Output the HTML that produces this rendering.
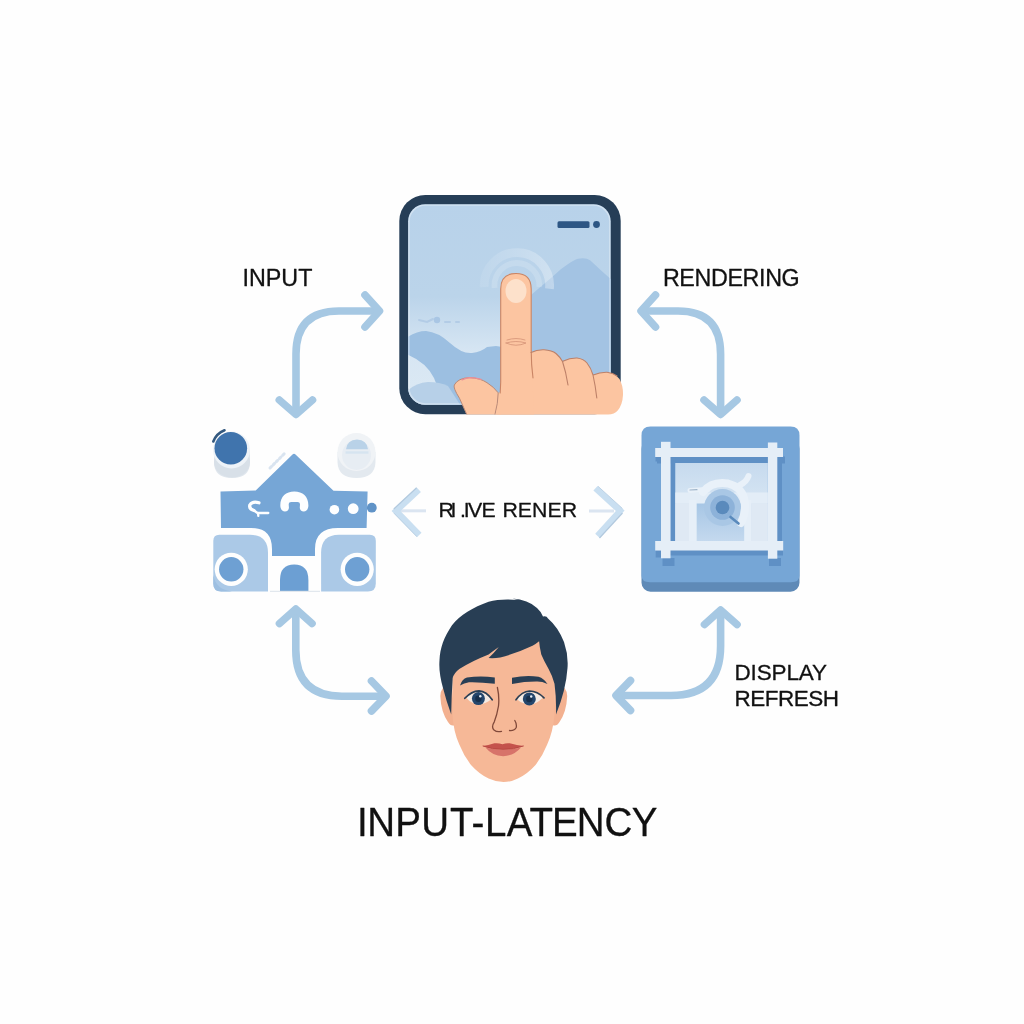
<!DOCTYPE html>
<html>
<head>
<meta charset="utf-8">
<title>Input-Latency</title>
<style>
html,body{margin:0;padding:0;background:#fefefe;}
body{width:1024px;height:1024px;overflow:hidden;position:relative;font-family:"Liberation Sans",sans-serif;}
svg{position:absolute;left:0;top:0;display:block;}
text{font-family:"Liberation Sans",sans-serif;fill:#111;}
</style>
</head>
<body>
<svg width="1024" height="1024" viewBox="0 0 1024 1024">
<defs>
  <linearGradient id="scr" x1="0" y1="0" x2="0" y2="1">
    <stop offset="0" stop-color="#b8d2ea"/>
    <stop offset="0.46" stop-color="#bbd4ea"/>
    <stop offset="0.74" stop-color="#d7e6f3"/>
    <stop offset="1" stop-color="#dce9f4"/>
  </linearGradient>
  <linearGradient id="ripg" gradientUnits="userSpaceOnUse" x1="480" y1="0" x2="554" y2="0">
    <stop offset="0" stop-color="#fff" stop-opacity="0.08"/>
    <stop offset="0.5" stop-color="#fff" stop-opacity="0.18"/>
    <stop offset="1" stop-color="#fff" stop-opacity="0.32"/>
  </linearGradient>
  <clipPath id="scrclip"><rect x="408.100" y="204.200" width="202.600" height="200.500" rx="17" ry="17"/></clipPath>
</defs>
<rect x="0" y="0" width="1024" height="1024" fill="#fefefe"/>


<!-- TABLET -->
<g id="tablet">
  <rect x="399.300" y="195" width="221.400" height="219.200" rx="26" ry="26" fill="#263e57"/>
  <rect x="408.100" y="204.200" width="202.600" height="200.500" rx="17" ry="17" fill="url(#scr)"/>
  <g clip-path="url(#scrclip)">
    <!-- right mountain -->
    <path d="M510 420 L510 313 L531 295 L553 276.300 L560.800 269.200 L567.800 264.300 Q574 260 578 258.800 Q582.700 257.700 587 258.700 Q590.500 260 593.600 263.500 L601.400 270.800 L612 280 L612 420 Z" fill="#a3c3e3"/>
    <!-- left hill -->
    <path d="M406 338 Q416 331 426 331 Q438 332 450 343 Q462 354 472 353 Q481 352 487 347 L496 346 L520 350 L520 420 L445 420 Q440 392 434 378 Q426 362 406 354 Z" fill="#9cbfe1"/>
    <!-- lower cloud -->
    <path d="M406 392 Q415 383 428 382 Q440 382 448 386 L470 420 L406 420 Z" fill="#b7d0e8"/>
    <!-- tiny bird marks -->
    <circle cx="437" cy="320" r="3.2" fill="#a9c6e4"/>
    <path d="M419 320 L427 322 L433 319 M445 322 L450 322 M456 322 L459 322" stroke="#b3cce6" stroke-width="2" fill="none" stroke-linecap="round"/>
    <!-- ripples -->
    <path d="M484.240 287 A32.700 32.700 0 1 1 549.420 288.800" fill="none" stroke="url(#ripg)" stroke-width="8.800"/>
    <path d="M494.650 288 A22.400 22.400 0 1 1 539.240 287" fill="none" stroke="#ffffff" stroke-opacity="0.160" stroke-width="5.800"/>
    <rect x="408.900" y="205" width="201" height="199" rx="16.500" ry="16.500" fill="none" stroke="#ffffff" stroke-opacity="0.35" stroke-width="1.600"/>
    <!-- status bar -->
    <rect x="557.5" y="221.3" width="32" height="6.6" rx="1.5" fill="#2d5684"/>
    <circle cx="596.5" cy="224.5" r="3.4" fill="#2d5684"/>
  </g>
</g>

<!-- HAND -->
<g id="hand" stroke-linejoin="round" stroke-linecap="round">
  <!-- palm / knuckles -->
  <path d="M531 352.500 Q537 349.500 544 349.800 Q552 350.300 556 353.500 Q560 357 562.500 361.500 Q570 357.800 577 358 Q583.500 358.800 587 363 Q591 368 593 375 Q600 372 607 372.200 Q615 373 619.500 379 Q623.300 386 623 395 Q622.500 405 617.500 410.800 Q614.500 414.500 608 414.500 L499 414.500 L501 380 Z" fill="#fcc5a1"/>
  <!-- thumb -->
  <path d="M466.600 414.500 L459.500 398.300 Q453 388 454.300 385 Q458 378 469.700 377.600 Q480 378 487 382.700 Q494 387 498.200 392.800 L501 392 L501 414.500 Z" fill="#fcc5a1"/>
  <path d="M466.600 414 L459.500 398.300 Q453 388 454.300 385 Q458 378 469.700 377.600 Q480 378 487 382.700 Q494 387 498.200 392.800 Q498 403 495.100 414" fill="none" stroke="#b98a78" stroke-width="1"/>
  <path d="M462 379.800 Q466 377.800 469.700 377.600 Q476 377.700 481 379.300" fill="none" stroke="#ec8f98" stroke-width="1.400" stroke-linecap="round"/>
  <!-- index finger -->
  <path d="M495.500 414.500 Q500 402 500.700 382 L500.700 289 Q500.700 273.500 516 273.500 Q531.200 273.500 531.200 289 L531.200 352 L534 414.500 Z" fill="#fcc5a1"/>
  <path d="M500.200 393 L500.700 382 L500.700 289 Q500.700 273.500 516 273.500 Q531.200 273.500 531.200 289 L531.200 350 Q531.200 365 533 378" fill="none" stroke="#c98565" stroke-width="1.1"/>
  <!-- knuckle outlines -->
  <path d="M531 352.500 Q537 349.500 544 349.800 Q552 350.300 556 353.500 Q560 357 562.500 361.500 Q566 372 568 385 M562.800 361.300 Q570 357.800 577 358 Q583.500 358.800 587 363 Q591 368 593 375 Q595.500 386 596.800 398 M593.200 375 Q600 372 607 372.200 Q613 372.800 617 376" fill="none" stroke="#bd8068" stroke-width="1.100"/>
  <!-- nail -->
  <ellipse cx="516" cy="291" rx="10.5" ry="12" fill="#fde1cb"/>
  <!-- finger crease -->
  <path d="M507 340 Q516 337 525 340 M506 343 Q516 340 526 343 Q516 347.500 506 343" fill="none" stroke="#d8977a" stroke-width="0.9"/>
</g>


<!-- LEFT ICON -->
<g id="lefticon">
  <!-- top-left knob -->
  <path d="M214 450 L214 462 Q214 478 232 478 Q250 478 250 462 L250 450 Z" fill="#dfe6ed"/>
  <ellipse cx="232" cy="462" rx="18" ry="15.5" fill="#d8e0e8"/>
  <ellipse cx="231.500" cy="450" rx="18.500" ry="18.500" fill="#eef3f8"/>
  <path d="M213.300 441.500 Q216.500 433.500 224.500 430.300" fill="none" stroke="#34597f" stroke-width="2.600" stroke-linecap="round"/>
  <circle cx="230.800" cy="448.300" r="16.300" fill="#4074ad"/>
  <!-- top-right knob -->
  <path d="M337.500 452 L337.500 462 Q338 478 356.500 478 Q375 478 375.500 462 L375.500 452 Z" fill="#e3e9ef"/>
  <ellipse cx="356.500" cy="452" rx="19" ry="19" fill="#f0f3f6"/>
  <ellipse cx="356.500" cy="455" rx="14.500" ry="15" fill="#e7edf3"/>
  <path d="M346 449.300 Q347 440 357 439.500 Q367 440 368 449.300 Z" fill="#b9d2e8"/>
  <path d="M345.500 452.500 H368.500" stroke="#d6e4f0" stroke-width="2.400"/>
  <!-- main body -->
  <path d="M220.500 491.500 L255.700 490.500 L292.500 454.500 Q294 453 295.500 454.500 L333.500 490.800 L367.600 491.600 L366.600 528 L338 528 Q315 528 315 549 L315 556 L272 556 L272 549 Q272 528 251 528 L221 528 Z" fill="#76a6d6"/>
  <!-- roof hint -->
  <path d="M270 468 L285 453" stroke="#d9e4f0" stroke-width="3" stroke-linecap="round" stroke-dasharray="2 2.500"/>
  <!-- white area under body -->
  <rect x="268" y="556" width="54" height="36" fill="#fefefe"/>
  <!-- bottom blocks -->
  <path d="M219.300 534.800 H250 Q268 534.800 268 553 V591.400 H221.300 Q213.300 591.400 213.300 583.400 V540.800 Q213.300 534.800 219.300 534.800 Z" fill="#abc9e7" stroke="#fefefe" stroke-width="6" paint-order="stroke"/>
  <path d="M369.800 534.800 H339 Q321.100 534.800 321.100 553 V591.400 H367.800 Q375.800 591.400 375.800 583.400 V540.800 Q375.800 534.800 369.800 534.800 Z" fill="#abc9e7" stroke="#fefefe" stroke-width="6" paint-order="stroke"/>
  <!-- subtle bottom shade on blocks -->
  <path d="M213.300 575 Q216 590 232 591.400 H221.300 Q213.300 591.400 213.300 583.400 Z" fill="#9dbfe1"/>
  <circle cx="231.250" cy="569.300" r="16.600" fill="#fefefe"/>
  <circle cx="231.250" cy="569.300" r="12.200" fill="#6ea0d3"/>
  <circle cx="357.200" cy="569.300" r="16.600" fill="#fefefe"/>
  <circle cx="357.200" cy="569.300" r="12.200" fill="#6ea0d3"/>
  <!-- door -->
  <path d="M280 591 V580 Q280 564.500 294.200 564.500 Q308.400 564.500 308.400 580 V591 Z" fill="#6c9fd3"/>
  <path d="M270 591.300 H320" stroke="#dbe3ea" stroke-width="1"/>
  <!-- center arch -->
  <path d="M280.300 505.500 C280.300 496.500 286 491.600 294.300 491.600 C302.700 491.600 308.400 496.500 308.400 505.500 C308.400 509 306.500 511.400 303.800 511.400 C301 511.400 299.500 509.500 299.800 507 L300 504.500 C300 502.800 299 502 297.500 502 L291.200 502 C289.700 502 288.700 502.800 288.700 504.500 L288.900 507 C289.200 509.500 287.700 511.400 284.900 511.400 C282.200 511.400 280.300 509 280.300 505.500 Z" fill="#fdfeff"/>
  <!-- squiggle -->
  <path d="M259 502.800 Q252.500 500.800 249.800 505 Q248.800 509 254 510.500" fill="none" stroke="#fdfeff" stroke-width="3.200" stroke-linecap="round"/>
  <path d="M254 510.500 L257.500 513 H268.300 M258 513 L258.300 515.800" fill="none" stroke="#fdfeff" stroke-width="2.300" stroke-linecap="round" stroke-linejoin="round"/>
  <!-- dots -->
  <circle cx="334.400" cy="509.700" r="4.800" fill="#fdfeff"/>
  <circle cx="353.200" cy="508.700" r="5.400" fill="#fdfeff"/>
  <circle cx="371.800" cy="507.700" r="4.900" fill="#6093c7"/>
</g>


<!-- RIGHT ICON -->
<g id="righticon">
  <defs>
    <linearGradient id="pic" x1="0" y1="0" x2="0" y2="1">
      <stop offset="0" stop-color="#c6daee"/>
      <stop offset="0.4" stop-color="#d3e3f2"/>
      <stop offset="1" stop-color="#dbe8f4"/>
    </linearGradient>
    <linearGradient id="picmid" x1="0" y1="0" x2="0" y2="1">
      <stop offset="0" stop-color="#a6c6e5"/>
      <stop offset="1" stop-color="#c4d9ee"/>
    </linearGradient>
    <clipPath id="picclip"><rect x="675.300" y="463" width="92.500" height="78.500"/></clipPath>
  </defs>
  <rect x="641.500" y="440" width="158" height="151.700" rx="9" ry="9" fill="#5f8ab7"/>
  <path d="M650.500 426.400 H790.500 Q799.500 426.400 799.500 435.400 V575.500 Q799.500 582.300 791 582.300 H650 Q641.500 582.300 641.500 575.500 V435.400 Q641.500 426.400 650.500 426.400 Z" fill="#76a6d6"/>
  <!-- shadows -->
  <g fill="#5f90c5">
    <rect x="657" y="456.500" width="128" height="7"/>
    <rect x="670.500" y="456.500" width="5" height="85"/>
    <rect x="777" y="456.500" width="5" height="94"/>
    <rect x="670" y="550" width="113" height="5.500"/>
    <rect x="662.500" y="558" width="12" height="8"/>
    <rect x="769" y="558" width="12" height="8"/>
    <rect x="655.500" y="456.500" width="6" height="5"/>
    <rect x="655.700" y="550.500" width="5.500" height="7"/>
  </g>
  <!-- picture -->
  <rect x="675.300" y="463" width="92.500" height="78.500" fill="url(#pic)"/>
  <g clip-path="url(#picclip)">
    <rect x="696.500" y="503" width="48" height="38" fill="url(#picmid)"/>
    <rect x="675" y="492.500" width="93" height="11" fill="#e3edf7"/>
    <rect x="689" y="500" width="7.500" height="42" fill="#e6eff8"/>
    <rect x="744.300" y="500" width="7" height="42" fill="#e6eff8"/>
    <rect x="675" y="503.500" width="14" height="38" fill="#dfe9f4"/>
    <rect x="751.300" y="503.500" width="17" height="38" fill="#dfe9f4"/>
    <circle cx="722.500" cy="507.500" r="18.500" fill="#a9c7e5"/>
    <circle cx="722.500" cy="507.500" r="12.300" fill="#8db2d9"/>
    <circle cx="722.500" cy="507.500" r="6.800" fill="#5a8abc"/>
    <!-- white swoosh -->
    <path d="M703 492 Q712 481 728 483.500 Q741 487 744 498 Q747 511 741 523" fill="none" stroke="#e9f1f9" stroke-width="8" stroke-linecap="round"/>
    <path d="M690 490.500 L708 489.500" stroke="#e9f1f9" stroke-width="5" stroke-linecap="round"/>
    <path d="M740 485 Q746.500 482 748.500 476" fill="none" stroke="#e9f1f9" stroke-width="6" stroke-linecap="round"/>
    <path d="M730.500 517 L738.500 523.500" stroke="#5a8abc" stroke-width="2.600" stroke-linecap="round"/>
    <path d="M690 490 L697 489.700" stroke="#9fb4c9" stroke-width="1.200" stroke-linecap="round"/>
  </g>
  <!-- white frame -->
  <g fill="#e5eef7">
    <rect x="655.200" y="448" width="127.800" height="9"/>
    <rect x="655.200" y="541" width="128" height="9.500"/>
    <rect x="661" y="441.800" width="9.500" height="116.500"/>
    <rect x="767.900" y="442.500" width="9.400" height="116.200"/>
  </g>
</g>


<!-- FACE -->
<g id="face">
  <!-- ears -->
  <path d="M452 686 Q441 684 440.300 696 Q441 712 448 722 Q451 727 455 725 Z" fill="#f3b190"/>
  <path d="M555.500 686 Q566.500 684 567.200 696 Q566.500 712 559.500 722 Q556.500 727 552.500 725 Z" fill="#f3b190"/>
  <!-- face -->
  <path d="M452 640 L452.500 715 Q453.500 732 459.300 744.400 Q464 756 471 765 Q479 774 488.600 778.500 Q496 782 503.500 782 Q511 782 517.900 778.500 Q527.500 774 535.500 765 Q542.500 756 547.200 744.400 Q553 732 554.500 715 L556 640 Z" fill="#f6b897"/>
  <!-- hair -->
  <path d="M451.200 714.500 Q446 700 443 688 Q438.500 672 439.500 660.300 C440 648 444 637 452 625.200 C460 614.500 473 607.500 488.600 601.700 C497 599.300 508 599 518 600 Q515 599 512.500 598.500 Q528 599.500 537 608 Q541 611.500 543 616.500 Q546.500 615.500 548 618.500 Q558 627 564 642 Q568.500 655 567.500 668 Q566 690 556 714.500 Q556.500 698 554.500 683.700 Q552 675 548.600 669 Q544 661 541.300 654.500 Q539.500 647 539.100 641.300 Q536 644 532.500 645.700 Q516 653.500 500.300 657.400 Q494 658.500 488.600 658 Q494 653 498.800 647 Q493 651 488.600 654.500 Q472 661 459.300 669 Q454 673 452.700 678 Q451.500 695 451.200 714.500 Z" fill="#283e54"/>
  <!-- eyebrows -->
  <path d="M460 685.500 Q462 679 467 677.600 Q480 675.500 494.800 677.500 L494.800 683.800 Q480 682 469 682.300 Q464 683 460 685.500 Z" fill="#293f55"/>
  <path d="M512 677.800 Q526 675 538.500 676.800 Q544 678.500 547.500 684 Q542 681.500 537 681.600 Q525 681.500 512 684 Z" fill="#293f55"/>
  <!-- eyes -->
  <path d="M466.500 698 Q472 692 479 691.800 Q486 692.200 491 699.500 Q485.500 704 478.500 704.300 Q471.500 704 466.500 698 Z" fill="#f4ebe4"/>
  <path d="M517.300 699.500 Q522.500 692.200 529.500 692 Q537 692.200 542.500 698 Q536.500 704 529.500 704.500 Q522.500 704.200 517.300 699.500 Z" fill="#f4ebe4"/>
  <circle cx="478.400" cy="698.600" r="6.500" fill="#24466c"/>
  <circle cx="529.300" cy="698.900" r="6.500" fill="#24466c"/>
  <circle cx="478.400" cy="698.800" r="3.200" fill="#172f4b"/>
  <circle cx="529.300" cy="699" r="3.200" fill="#172f4b"/>
  <circle cx="480.300" cy="696.300" r="1.200" fill="#e8eef5"/>
  <circle cx="531.200" cy="696.500" r="1.200" fill="#e8eef5"/>
  <path d="M464.800 698.300 Q471.500 691 479 690.800 Q486.500 691.200 492.200 699.800" fill="none" stroke="#293f55" stroke-width="1.700" stroke-linecap="round"/>
  <path d="M516 699.800 Q522 691.300 529.500 691 Q537.500 691.200 544 697.800" fill="none" stroke="#293f55" stroke-width="1.700" stroke-linecap="round"/>
  <!-- nose -->
  <path d="M497.400 687.500 Q499.500 697 498.500 706 Q497 715 494.300 721.800 Q491 727 494 730 Q497 732.500 501.500 731.300 M509.500 730.500 Q514.500 731 516.200 727.500 Q517 724 514.800 720.500" fill="none" stroke="#80493a" stroke-width="1.300" stroke-linecap="round"/>
  <!-- mouth -->
  <path d="M482.700 745.900 Q488 745.500 494.400 743.300 Q498.500 742.800 502.500 744.300 Q506 742.800 509.800 743.300 Q517 745.500 523.700 745.900 Q514 749.500 503 749.300 Q492 749.500 482.700 745.900 Z" fill="#c4524c"/>
  <path d="M485.500 747.500 Q494 749.800 503 749.300 Q513 749.500 521 747.500 Q514 755.800 503.200 756.200 Q492 755.800 485.500 747.500 Z" fill="#d7736a"/>
  <path d="M482.700 745.900 Q492 749.500 503 749.300 Q514 749.500 523.700 745.900" fill="none" stroke="#b3443f" stroke-width="0.900"/>
</g>

<!-- ARROWS -->
<g id="arrows" fill="none" stroke="#a6c8e3" stroke-width="7.600" stroke-linecap="round" stroke-linejoin="round">
  <!-- top-left -->
  <path d="M296 413 V354 Q296 311 339 311 H378"/>
  <path d="M365 295 L379.500 311 L365 327"/>
  <path d="M279.300 400 L296 414.500 L312.500 400"/>
  <!-- top-right -->
  <path d="M720.600 413 V354 Q720.600 311 678 311 H643"/>
  <path d="M655.500 295 L641 311 L655.500 327"/>
  <path d="M704 400 L720.600 414.500 L737 400"/>
  <!-- bottom-left -->
  <path d="M295.800 610 V650 Q295.800 696.200 342 696.200 H385"/>
  <path d="M279.500 623.500 L295.800 609 L312 623.500"/>
  <path d="M371.500 681 L386 696.200 L371.500 711"/>
  <!-- bottom-right -->
  <path d="M720.600 611 V646 Q720.600 695.500 671 695.500 H617"/>
  <path d="M704.500 624.500 L720.600 610 L737 624.500"/>
  <path d="M630.500 680.500 L616 695.500 L630.500 710.500"/>
</g>


<!-- CENTER CHEVRONS -->
<g id="centerarrows" fill="none">
  <path d="M400 510.800 H426" stroke="#dbe5f1" stroke-width="3"/>
  <path d="M589 511 H614" stroke="#dbe5f1" stroke-width="3"/>
  <path d="M418.800 489.800 L396 511 L419.300 534.800" stroke="#c9dff1" stroke-width="6.200" stroke-linejoin="miter"/>
  <path d="M416.600 487.700 L393.800 509" stroke="#b2c9de" stroke-width="1.200"/>
  <path d="M394 513.200 L417 536.800" stroke="#b9d0e4" stroke-width="1"/>
  <path d="M595.500 488.300 L620.200 510.800 L597.500 535.800" stroke="#c9dff1" stroke-width="6.200" stroke-linejoin="miter"/>
  <path d="M599.500 538 L622.500 513" stroke="#b2c9de" stroke-width="1.200"/>
  <path d="M598 486.300 L622.500 508.600" stroke="#bcd2e6" stroke-width="1"/>
</g>

<!-- LABELS -->
<g id="labels" style="filter:grayscale(1)" stroke="#111" stroke-width="0.3" stroke-linejoin="round">
  <text x="242.500" y="0" font-size="23.300" transform="translate(0,285.700) scale(1,0.990)">INPUT</text>
  <text x="662.900" y="0" font-size="23.300" textLength="136.800" transform="translate(0,285.700) scale(1,0.990)">RENDERING</text>
  <text x="734.500" y="0" font-size="22.500" textLength="92.600" transform="translate(0,680.200) scale(1,0.990)">DISPLAY</text>
  <text x="734.500" y="0" font-size="22.500" textLength="104.400" transform="translate(0,705.700) scale(1,0.990)">REFRESH</text>
  <text x="438.500 450.500 460.100 463.800 468 481.400" y="0" font-size="21.300" transform="translate(0,517) scale(1,0.990)">RI.IVE</text>
  <text x="502.500" y="0" font-size="21.300" transform="translate(0,517) scale(1,0.990)">RENER</text>
  <text x="357.100 367.300 395.300 421.200 449.900 471.600 485.100 506.700 529.500 552 576.800 604.600 631.700" y="0" font-size="38.500" transform="translate(0,835.700) scale(1,1.042)">INPUT-LATENCY</text>
</g>
</svg>
</body>
</html>
